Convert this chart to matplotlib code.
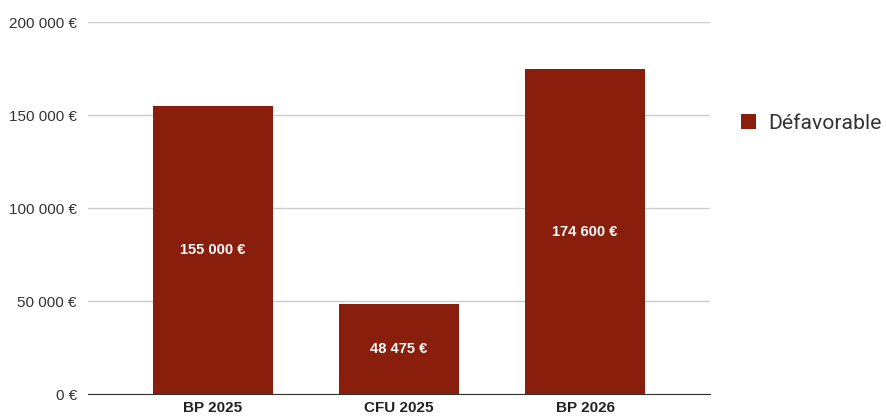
import matplotlib.pyplot as plt
from matplotlib.ticker import FuncFormatter
from matplotlib.patches import Patch

categories = ["BP 2025", "CFU 2025", "BP 2026"]
values = [155000, 48475, 174600]
series_name = "Défavorable"
yticks = [0, 50000, 100000, 150000, 200000]

def euro(v, pos=None):
    return "{:,.0f} €".format(v).replace(",", " ")

plt.rcParams['font.family'] = ['Liberation Sans', 'DejaVu Sans']
color = "#8a1e0c"

fig = plt.figure(figsize=(8.87, 4.18), dpi=100)
ax = fig.add_axes([0.0992, 0.0574, 0.7013, 0.8896])

x = range(len(categories))
bars = ax.bar(x, values, width=0.645, color=color, zorder=3)
for b, v in zip(bars, values):
    ax.text(b.get_x() + b.get_width() / 2, v / 2, euro(v), ha="center", va="center",
            color="white", fontsize=10.5, fontweight="bold", zorder=4)

ax.set_xlim(-0.672, 2.672)
ax.set_ylim(0, 200000)
ax.set_yticks(yticks)
ax.yaxis.set_major_formatter(FuncFormatter(euro))
ax.set_xticks(list(x))
ax.set_xticklabels(categories, fontweight="bold", fontsize=11, color="#222222")
ax.tick_params(axis="y", length=0, pad=8, labelsize=11, labelcolor="#333333")
ax.tick_params(axis="x", length=0, pad=5)
ax.grid(axis="y", color="#cccccc", linewidth=1, zorder=0)
for s in ["top", "right", "left"]:
    ax.spines[s].set_visible(False)
ax.spines["bottom"].set_color("#333333")
ax.spines["bottom"].set_zorder(5)

handle = Patch(facecolor=color, label=series_name)
fig.legend(handles=[handle], loc="center left", bbox_to_anchor=(0.814, 0.705),
           frameon=False, handlelength=0.7, handleheight=0.7,
           handletextpad=0.6, labelcolor="#333333",
           prop={'family': ['Roboto', 'DejaVu Sans'], 'size': 15.2})

fig.savefig("out.png", dpi=100, facecolor="white")
